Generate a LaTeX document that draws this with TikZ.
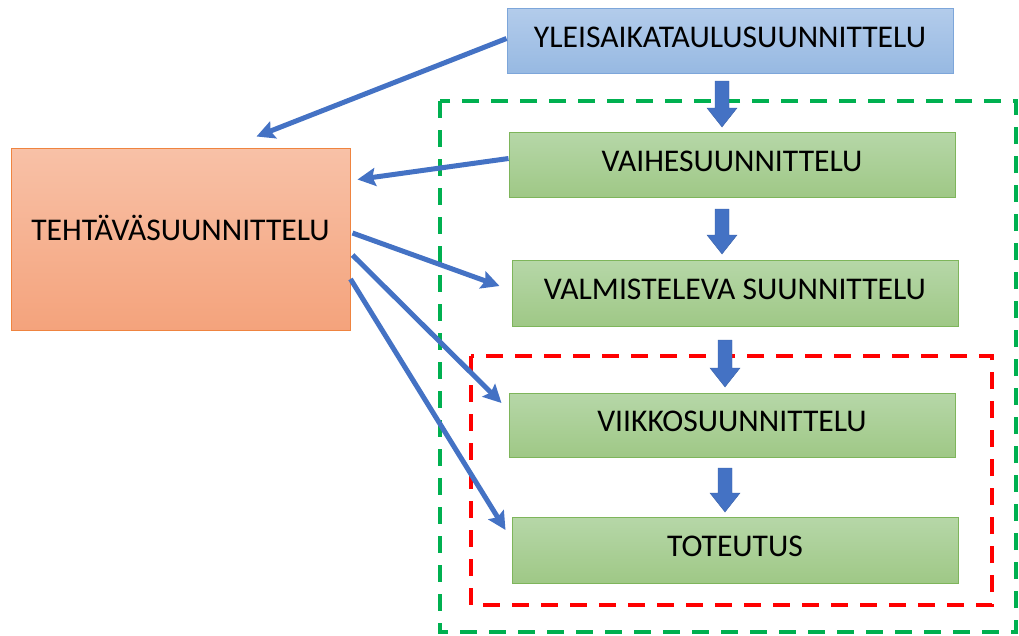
\documentclass[tikz,border=0pt]{standalone}
\usepackage{fontspec}
\setmainfont{Carlito}
\usetikzlibrary{arrows.meta}

\definecolor{arrowblue}{HTML}{4472C4}
\definecolor{plantop}{HTML}{B3CCEB}
\definecolor{planbot}{HTML}{97B9E2}
\definecolor{planline}{HTML}{7DA6DA}
\definecolor{phasetop}{HTML}{B6D7A8}
\definecolor{phasebot}{HTML}{9FC886}
\definecolor{phaseline}{HTML}{7EB55B}
\definecolor{tasktop}{HTML}{F8C1A7}
\definecolor{taskbot}{HTML}{F4A37C}
\definecolor{taskline}{HTML}{EF8440}
\definecolor{framegreen}{HTML}{00B050}
\definecolor{framered}{HTML}{FF0000}

\tikzset{
  box/.style={rectangle, draw, line width=1pt, minimum width=446pt, minimum height=65pt,
    inner sep=0pt, font=\fontsize{31.6}{36}\selectfont, text height=20pt, text depth=7pt},
  planbox/.style={box, draw=planline, top color=plantop, bottom color=planbot},
  phasebox/.style={box, draw=phaseline, top color=phasetop, bottom color=phasebot},
  taskbox/.style={box, draw=taskline, top color=tasktop, bottom color=taskbot,
    minimum width=339pt, minimum height=182pt, text depth=18pt},
  link/.style={arrowblue, line width=5pt, -{Stealth[length=18pt,width=18pt,inset=3pt]}},
  frame/.style={line width=3.5pt, dash pattern=on 17pt off 12pt},
  blockfill/.style={fill=arrowblue, draw=arrowblue!85!black, line width=0.4pt}
}

\begin{document}
\begin{tikzpicture}[x=1pt,y=-1pt]
\useasboundingbox (0,0) rectangle (1019,635);

% dashed frames
\draw[frame, framegreen] (440,101) rectangle (1016,632);
\draw[frame, framered] (471,356) rectangle (992,605);

% boxes
\node[planbox] (plan) at (730,40.5) {YLEISAIKATAULUSUUNNITTELU};
\node[phasebox] (vaihe) at (732,164.5) {VAIHESUUNNITTELU};
\node[phasebox, minimum height=66pt] (valm) at (735,293) {VALMISTELEVA SUUNNITTELU};
\node[phasebox, minimum height=64pt] (viikko) at (732,425) {VIIKKOSUUNNITTELU};
\node[phasebox, minimum height=66pt] (toteutus) at (735,550) {TOTEUTUS};
\node[taskbox] (teht) at (180.5,239) {TEHTÄVÄSUUNNITTELU};

% block arrows down the chain
\foreach \x/\a/\b in {722/81/127, 722/209/254, 725/340/387, 725/468/512}
  \draw[blockfill] (\x-7,\a) -- (\x+7,\a) -- (\x+7,\b-19) -- (\x+15,\b-19) -- (\x,\b)
    -- (\x-15,\b-19) -- (\x-7,\b-19) -- cycle;

% links to and from the task planning
\coordinate (tipA) at ([xshift=76pt,yshift=11pt]teht.north);
\coordinate (tipB) at ([xshift=7pt,yshift=-32pt]teht.north east);
\draw[link] ([yshift=2pt]plan.west) -- (tipA);
\draw[link] ([yshift=6pt]vaihe.west) -- (tipB);
\draw[link] ([xshift=2pt,yshift=6pt]teht.east) -- ([xshift=-12pt,yshift=7pt]valm.west);
\draw[link] ([xshift=2pt,yshift=-16pt]teht.east) -- ([xshift=-7pt,yshift=22pt]viikko.west);
\draw[link] ([yshift=-40pt]teht.east) -- ([xshift=-6pt,yshift=20pt]toteutus.west);
\end{tikzpicture}
\end{document}
